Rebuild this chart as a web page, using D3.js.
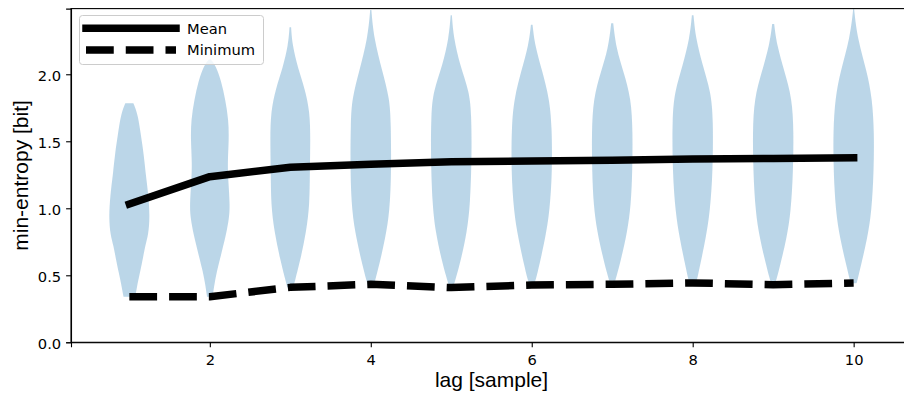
<!DOCTYPE html>
<head>
  <meta charset="utf-8">
  <title>Min-entropy violin chart</title>
  <script src="https://d3js.org/d3.v7.min.js"></script>
  <style>
    body { margin: 0; background: #fff; }
  </style>
</head>
<body>
  <div id="chart"></div>

  <script type="text/javascript">

    // lag positions
    var lags = [1, 2, 3, 4, 5, 6, 7, 8, 9, 10];

    // mean and minimum min-entropy per lag
    var meanValues = [1.032, 1.236, 1.306, 1.328, 1.348, 1.353, 1.358, 1.368, 1.372, 1.376];
    var minValues  = [0.340, 0.340, 0.410, 0.433, 0.408, 0.428, 0.433, 0.443, 0.430, 0.443];

    // violin outlines: [value, relative width]
    var violin1  = [[1.784, 0.2], [1.70, 0.42], [1.57, 0.55], [1.40, 0.72], [1.27, 0.8], [1.10, 0.95], [0.93, 1.02], [0.80, 0.94], [0.73, 0.8], [0.60, 0.64], [0.53, 0.54], [0.40, 0.36], [0.34, 0.29]];
    var violin2  = [[2.11, 0.05], [2.07, 0.28], [1.95, 0.57], [1.81, 0.77], [1.66, 0.93], [1.51, 0.95], [1.33, 0.88], [1.20, 0.92], [1.02, 1.0], [0.93, 0.96], [0.81, 0.82], [0.63, 0.52], [0.56, 0.4], [0.44, 0.23], [0.34, 0.14]];
    var violin3  = [[2.35, 0.04], [2.22, 0.1], [2.045, 0.38], [1.895, 0.72], [1.72, 0.97], [1.52, 1.0], [1.27, 0.97], [1.025, 0.96], [0.825, 0.79], [0.627, 0.52], [0.452, 0.22], [0.41, 0.15]];
    var violin4  = [[2.48, 0.03], [2.27, 0.15], [2.02, 0.58], [1.82, 0.93], [1.646, 1.0], [1.27, 1.02], [0.975, 0.94], [0.776, 0.72], [0.577, 0.42], [0.452, 0.2], [0.43, 0.15]];
    var violin5  = [[2.44, 0.03], [2.27, 0.12], [2.07, 0.43], [1.87, 0.9], [1.70, 1.0], [1.40, 1.02], [1.025, 0.94], [0.825, 0.78], [0.627, 0.5], [0.478, 0.23], [0.415, 0.1]];
    var violin6  = [[2.37, 0.04], [2.22, 0.15], [2.02, 0.53], [1.82, 0.87], [1.62, 1.0], [1.27, 1.02], [0.975, 0.89], [0.776, 0.67], [0.577, 0.38], [0.465, 0.2], [0.45, 0.15]];
    var violin7  = [[2.38, 0.05], [2.19, 0.2], [2.02, 0.56], [1.82, 0.94], [1.57, 1.02], [1.27, 1.0], [1.025, 0.93], [0.825, 0.75], [0.627, 0.45], [0.50, 0.23], [0.46, 0.15]];
    var violin8  = [[2.44, 0.04], [2.27, 0.15], [2.07, 0.49], [1.87, 0.9], [1.67, 1.02], [1.27, 1.0], [0.975, 0.86], [0.776, 0.65], [0.577, 0.37], [0.49, 0.25], [0.465, 0.2]];
    var violin9  = [[2.375, 0.05], [2.22, 0.18], [2.02, 0.56], [1.82, 0.94], [1.57, 1.02], [1.27, 0.99], [0.975, 0.88], [0.776, 0.67], [0.577, 0.35], [0.478, 0.18], [0.455, 0.13]];
    var violin10 = [[2.49, 0.02], [2.27, 0.18], [2.02, 0.66], [1.82, 0.92], [1.57, 1.02], [1.27, 1.0], [0.975, 0.89], [0.776, 0.68], [0.577, 0.37], [0.452, 0.17], [0.44, 0.14]];
    var violins = [violin1, violin2, violin3, violin4, violin5, violin6, violin7, violin8, violin9, violin10];

    var xTicks = [2, 4, 6, 8, 10];
    var yTicks = [0.0, 0.5, 1.0, 1.5, 2.0];
    var seriesNames = ['Mean', 'Minimum'];

    // size of the picture and of the plot area
    var width = 904;
    var height = 397;
    var plot = { left: 71, right: 912, top: 8.6, bottom: 342.3 };

    var xScale = d3.scaleLinear()
      .domain([0.275, 10.725])
      .range([plot.left, plot.right]);
    var yScale = d3.scaleLinear()
      .domain([0, 2.49])
      .range([plot.bottom, plot.top]);

    var svg = d3.select('#chart')
      .append('svg')
        .attr('width', width)
        .attr('height', height);

    // violins: max half width is 0.25 on the x axis
    var halfWidth = 0.25;
    violins.forEach(function (profile, i) {
      var pos = lags[i];
      var area = d3.area()
        .y(function (d) { return yScale(d[0]); })
        .x0(function (d) { return xScale(pos - d[1] * halfWidth); })
        .x1(function (d) { return xScale(pos + d[1] * halfWidth); })
        .curve(d3.curveBasis);
      var sorted = profile.slice().sort(function (a, b) { return a[0] - b[0]; });
      svg.append('path')
        .datum(sorted)
        .attr('fill', '#1f77b4')
        .attr('fill-opacity', 0.3)
        .attr('d', area);
    });

    // mean and minimum lines
    var lineWidth = 7.5;
    var valueLine = d3.line()
      .x(function (d, i) { return xScale(lags[i]); })
      .y(function (d) { return yScale(d); });

    svg.append('path')
      .datum(meanValues)
      .attr('fill', 'none')
      .attr('stroke', '#000')
      .attr('stroke-width', lineWidth)
      .attr('stroke-linecap', 'square')
      .attr('stroke-linejoin', 'round')
      .attr('d', valueLine);

    svg.append('path')
      .datum(minValues)
      .attr('fill', 'none')
      .attr('stroke', '#000')
      .attr('stroke-width', lineWidth)
      .attr('stroke-linecap', 'butt')
      .attr('stroke-linejoin', 'round')
      .attr('stroke-dasharray', (3.7 * lineWidth) + ',' + (1.6 * lineWidth))
      .attr('d', valueLine);

    // axes
    var xAxis = d3.axisBottom(xScale)
      .tickValues(xTicks)
      .tickSizeOuter(0)
      .tickSize(4.9)
      .tickPadding(4.9);
    var yAxis = d3.axisLeft(yScale)
      .tickValues(yTicks)
      .tickFormat(d3.format('.1f'))
      .tickSizeOuter(0)
      .tickSize(4.9)
      .tickPadding(4.9);

    var gx = svg.append('g')
      .attr('transform', 'translate(0,' + plot.bottom + ')')
      .call(xAxis);
    gx.selectAll('.tick text').attr('dy', '0.88em');

    var gy = svg.append('g')
      .attr('transform', 'translate(' + plot.left + ',0)')
      .call(yAxis);
    gy.selectAll('.tick text').attr('dy', '0.39em');

    svg.selectAll('.tick text')
      .attr('fill', '#000')
      .style('font-family', "'DejaVu Sans', sans-serif")
      .style('font-size', '14.7px');

    svg.selectAll('.domain, .tick line')
      .attr('stroke', '#000')
      .attr('stroke-width', 1.1);

    // frame around the plot (right side falls outside the picture)
    svg.append('rect')
      .attr('x', plot.left)
      .attr('y', plot.top)
      .attr('width', plot.right - plot.left)
      .attr('height', plot.bottom - plot.top)
      .attr('fill', 'none')
      .attr('stroke', '#000')
      .attr('stroke-width', 1.1);

    // axis titles
    svg.append('text')
      .attr('x', (plot.left + plot.right) / 2)
      .attr('y', 387.3)
      .attr('text-anchor', 'middle')
      .style('font-family', "'Liberation Sans', Arial, sans-serif")
      .style('font-size', '21px')
      .text('lag [sample]');

    svg.append('text')
      .attr('transform', 'translate(28,' + (plot.top + plot.bottom) / 2 + ') rotate(-90)')
      .attr('text-anchor', 'middle')
      .style('font-family', "'Liberation Sans', Arial, sans-serif")
      .style('font-size', '21px')
      .text('min-entropy [bit]');

    // legend
    var legend = svg.append('g');
    legend.append('rect')
      .attr('x', 79.5)
      .attr('y', 15.5)
      .attr('width', 184)
      .attr('height', 49)
      .attr('rx', 3)
      .attr('fill', '#fff')
      .attr('fill-opacity', 0.8)
      .attr('stroke', '#cccccc')
      .attr('stroke-width', 1);

    var legendRows = [28.3, 50];
    seriesNames.forEach(function (name, i) {
      var h = legend.append('line')
        .attr('x1', 86)
        .attr('x2', 176)
        .attr('y1', legendRows[i])
        .attr('y2', legendRows[i])
        .attr('stroke', '#000')
        .attr('stroke-width', lineWidth);
      if (i === 0) {
        h.attr('stroke-linecap', 'square');
      } else {
        h.attr('stroke-linecap', 'butt')
          .attr('stroke-dasharray', (3.7 * lineWidth) + ',' + (1.6 * lineWidth));
      }
      legend.append('text')
        .attr('x', 187)
        .attr('y', legendRows[i] + 5.3)
        .style('font-family', "'DejaVu Sans', sans-serif")
        .style('font-size', '14.7px')
        .text(name);
    });
  </script>
</body>
